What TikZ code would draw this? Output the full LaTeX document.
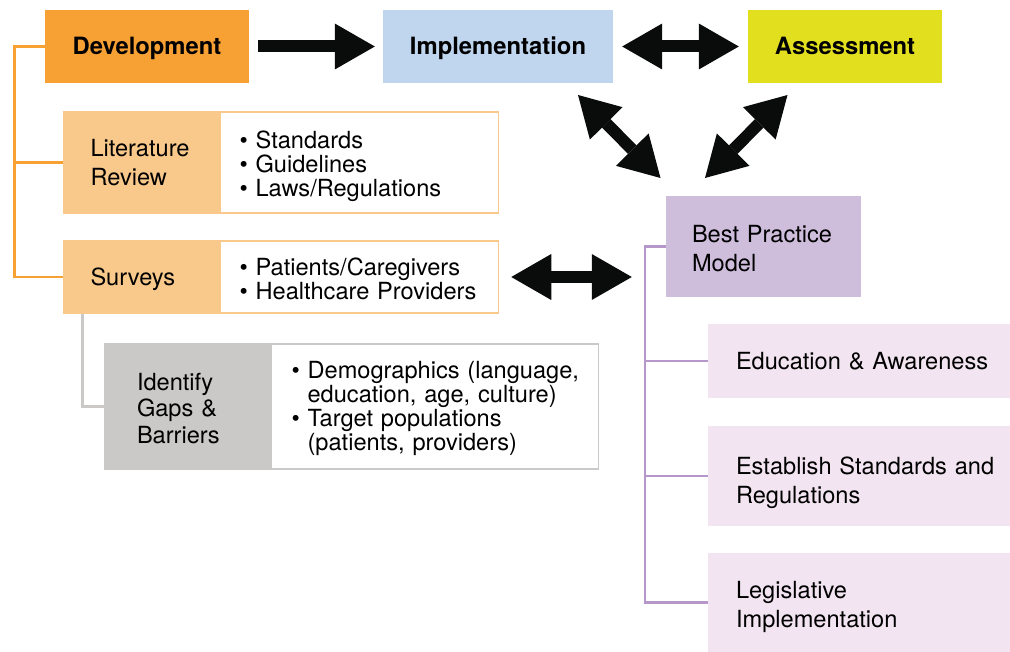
\documentclass[tikz,border=0pt]{standalone}
\usepackage{fontspec}
\setmainfont{TeX Gyre Heros}
\usetikzlibrary{arrows.meta, positioning}

\definecolor{devorange}{HTML}{F7A135}
\definecolor{devlight}{HTML}{F9C98B}
\definecolor{implblue}{HTML}{C0D5EE}
\definecolor{assessyellow}{HTML}{E2DF1F}
\definecolor{gapgrey}{HTML}{CAC9C8}
\definecolor{bppurple}{HTML}{CFBDDC}
\definecolor{bppink}{HTML}{F2E5F1}
\definecolor{bpline}{HTML}{B697CA}
\definecolor{arrowblack}{HTML}{0A0C0B}

\newcommand{\listbul}{\textbullet\ }

\tikzset{
  every node/.style={font=\fontsize{23.6pt}{29pt}\selectfont, text=black},
  headbox/.style={minimum height=73pt, inner sep=0pt, text height=17pt, text depth=0pt, font=\fontsize{23.8pt}{29pt}\selectfont\bfseries},
  devlabel/.style={fill=devlight, draw=devlight, line width=1.5pt, text width=102pt, inner xsep=26.5pt, align=left},
  devlist/.style={fill=white, draw=devlight, line width=1.5pt, text width=246pt, inner xsep=16pt, align=left, font=\fontsize{23.6pt}{24pt}\selectfont, execute at begin node={\leftskip=3pt}},
  gaplabel/.style={fill=gapgrey, draw=gapgrey, line width=1.5pt, text width=101pt, inner xsep=32pt, align=left, minimum height=125pt, font=\fontsize{23.6pt}{26.5pt}\selectfont},
  gaplist/.style={fill=white, draw=gapgrey, line width=1.5pt, text width=311pt, inner xsep=8pt, align=left, minimum height=125pt, font=\fontsize{23.6pt}{24pt}\selectfont, execute at begin node={\leftskip=12pt}},
  bpbox/.style={fill=bppurple, text width=143pt, inner xsep=26pt, align=left, minimum height=101pt},
  bpsub/.style={fill=bppink, text width=286pt, inner xsep=8pt, align=left, execute at begin node={\leftskip=20pt}},
  bigtip/.tip={Triangle[length=40pt, width=46pt, line width=0pt]},
  bigarrow/.style={draw=arrowblack, line width=12pt, -bigtip},
  bigdouble/.style={draw=arrowblack, line width=12pt, bigtip-bigtip},
  devline/.style={draw=devorange, line width=2.5pt},
  gapline/.style={draw=gapgrey, line width=3pt},
  bpconn/.style={draw=bpline, line width=2.5pt}
}

\begin{document}
\begin{tikzpicture}[x=1pt, y=-1pt]
\useasboundingbox (0,0) rectangle (1010,652);

% top row
\node [headbox, fill=devorange, minimum width=204pt] (dev) at (147,46.5) {Development};
\node [headbox, fill=implblue, minimum width=230pt] (impl) at (498,46.5) {Implementation};
\node [headbox, fill=assessyellow, minimum width=194pt] (assess) at (845,46.5) {Assessment};

% development branch
\node [devlabel, minimum height=101pt, text height=17.4pt, text depth=29pt] (litl) at (141.5,162.5) {Literature\\Review};
\node [devlist, minimum height=101pt, text height=20.4pt, text depth=48pt, anchor=west] (litr) at (litl.east)
  {\listbul Standards\\\listbul Guidelines\\\listbul Laws/Regulations};

\node [devlabel, minimum height=72pt, text height=16.4pt, text depth=0pt] (survl) at (141.5,277) {Surveys};
\node [devlist, minimum height=72pt, text height=21.4pt, text depth=24pt, anchor=west] (survr) at (survl.east)
  {\listbul Patients/Caregivers\\\listbul Healthcare Providers};

\node [gaplabel, text height=20.4pt, text depth=53pt] (gapl) at (187.5,406.5) {Identify\\Gaps \&\\Barriers};
\node [gaplist, text height=16.4pt, text depth=72pt, anchor=west] (gapr) at (gapl.east)
  {\listbul Demographics (language,\\\phantom{\listbul}education, age, culture)\\\listbul Target populations\\\phantom{\listbul}(patients, providers)};

% best practice branch
\node [bpbox, text height=21.4pt, text depth=29pt] (best) at (763.5,246.5) {Best Practice\\Model};
\node [bpsub, minimum height=74pt, text height=17.4pt, text depth=0pt] (edu) at (859,361) {Education \& Awareness};
\node [bpsub, minimum height=100pt, text height=26.4pt, text depth=29pt] (estab) at (859,476) {Establish Standards and\\Regulations};
\node [bpsub, minimum height=99pt, text height=20.4pt, text depth=29pt] (legis) at (859,602.5) {Legislative\\Implementation};

% tree lines
\draw [devline] (dev.west) -| ([xshift=-49pt]litl.west) |- (survl.west);
\draw [devline] (litl.west) -- ++(-49,0);
\draw [gapline] ([xshift=19pt]survl.south west) |- (gapl.west);
\draw [bpconn] (best.west) -- ++(-21,0) |- (legis.west);
\draw [bpconn] (edu.west) -- ++(-63,0);
\draw [bpconn] (estab.west) -- ++(-63,0);

% block arrows
\coordinate (implout) at (578,95);
\coordinate (bestinl) at (660.5,178);
\coordinate (assessout) at (787.5,95);
\coordinate (bestinr) at (705,178);

\draw [bigarrow, shorten <=9pt, shorten >=8pt] (dev) -- (impl);
\draw [bigdouble, shorten <=9pt, shorten >=9pt] (impl) -- (assess);
\draw [bigdouble] (implout) -- (bestinl);
\draw [bigdouble] (assessout) -- (bestinr);
\draw [bigdouble, shorten <=12pt, shorten >=34pt] (survr.east) -- (best.west |- survr.east);
\end{tikzpicture}
\end{document}
